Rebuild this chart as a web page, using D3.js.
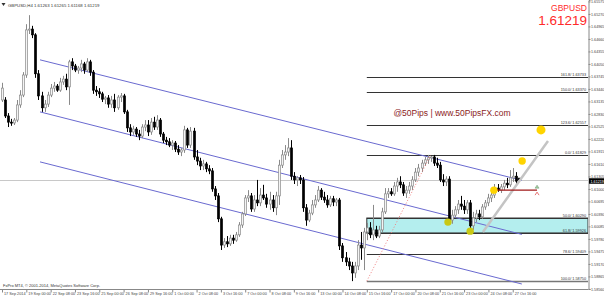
<!DOCTYPE html>
<html>
<head>
<meta charset="utf-8">
<script src="https://cdn.jsdelivr.net/npm/d3@7"></script>
<style>
  body { margin: 0; background: #fff; }
  text { font-family: "Liberation Sans", Arial, sans-serif; }
</style>
</head>
<body>
<div id="chart"></div>
<script>
var svgWidth = 604;
var svgHeight = 297;
var plotRight = 588;
var plotBottom = 289;

// chart data
var header = "GBPUSD,H4 1.61263 1.61265 1.61168 1.61219";
var symbol = "GBPUSD";
var lastPrice = 1.61219;
var credit = "FxPro MT4, \u00a9 2001-2014, MetaQuotes Software Corp.";
var watermark = "@50Pips | www.50PipsFX.com";

var timeLabels = ["17 Sep 2014", "19 Sep 00:00", "22 Sep 08:00", "23 Sep 16:00", "25 Sep 00:00",
  "26 Sep 08:00", "29 Sep 16:00", "1 Oct 00:00", "2 Oct 08:00", "3 Oct 16:00", "7 Oct 00:00",
  "8 Oct 08:00", "9 Oct 16:00", "13 Oct 00:00", "14 Oct 08:00", "15 Oct 16:00", "17 Oct 00:00",
  "20 Oct 08:00", "21 Oct 16:00", "23 Oct 00:00", "24 Oct 08:00", "27 Oct 16:00"];
var timeLabelBars = [0, 8, 16, 24, 32, 40, 48, 56, 64, 72, 80, 88, 96, 104, 112, 120, 128, 136, 144, 152, 160, 168];

var priceTicks = [1.58560, 1.58865, 1.59170, 1.59475, 1.59780, 1.60085, 1.60390, 1.60695,
  1.61000, 1.61305, 1.61610, 1.61915, 1.62220, 1.62525, 1.62830, 1.63135, 1.63440, 1.63745,
  1.64050, 1.64355, 1.64660, 1.64965, 1.65270, 1.65575];

// H4 bars: open, high, low, close
var candles = [
  [1.6317,1.6359,1.6312,1.6346],[1.6317,1.6324,1.6273,1.6278],[1.6278,1.6285,1.6251,1.6263],
  [1.6263,1.6271,1.6254,1.6261],[1.6261,1.6273,1.6256,1.6268],[1.6268,1.6317,1.6263,1.6305],
  [1.6305,1.6341,1.6298,1.6329],[1.6329,1.6385,1.6324,1.6378],[1.6378,1.6502,1.6371,1.6488],
  [1.6488,1.6524,1.6478,1.6490],[1.6490,1.6498,1.6468,1.6476],[1.6476,1.6480,1.6371,1.6381],
  [1.6381,1.6390,1.6317,1.6327],[1.6327,1.6337,1.6288,1.6298],[1.6298,1.6317,1.6288,1.6307],
  [1.6307,1.6337,1.6300,1.6329],[1.6329,1.6356,1.6324,1.6346],[1.6346,1.6361,1.6337,1.6351],
  [1.6351,1.6356,1.6337,1.6341],[1.6341,1.6371,1.6337,1.6361],[1.6361,1.6376,1.6354,1.6368],
  [1.6368,1.6381,1.6341,1.6349],[1.6349,1.6415,1.6305,1.6410],[1.6410,1.6419,1.6390,1.6400],
  [1.6400,1.6405,1.6385,1.6390],[1.6390,1.6400,1.6381,1.6395],[1.6395,1.6415,1.6385,1.6405],
  [1.6405,1.6410,1.6381,1.6390],[1.6390,1.6419,1.6385,1.6410],[1.6410,1.6415,1.6376,1.6385],
  [1.6385,1.6390,1.6332,1.6341],[1.6341,1.6351,1.6327,1.6337],[1.6337,1.6346,1.6322,1.6332],
  [1.6332,1.6337,1.6312,1.6319],[1.6319,1.6327,1.6307,1.6322],[1.6322,1.6329,1.6298,1.6307],
  [1.6307,1.6327,1.6298,1.6317],[1.6317,1.6332,1.6288,1.6298],[1.6298,1.6329,1.6293,1.6324],
  [1.6324,1.6334,1.6312,1.6327],[1.6327,1.6332,1.6283,1.6288],[1.6288,1.6293,1.6239,1.6249],
  [1.6249,1.6258,1.6229,1.6239],[1.6239,1.6254,1.6232,1.6246],[1.6246,1.6251,1.6227,1.6234],
  [1.6234,1.6244,1.6219,1.6229],[1.6229,1.6258,1.6224,1.6251],[1.6251,1.6268,1.6241,1.6256],
  [1.6256,1.6268,1.6229,1.6239],[1.6239,1.6273,1.6232,1.6263],[1.6263,1.6276,1.6244,1.6251],
  [1.6251,1.6280,1.6244,1.6268],[1.6268,1.6273,1.6227,1.6234],[1.6234,1.6239,1.6212,1.6219],
  [1.6219,1.6227,1.6207,1.6215],[1.6215,1.6224,1.6202,1.6207],[1.6207,1.6219,1.6195,1.6212],
  [1.6212,1.6217,1.6190,1.6197],[1.6197,1.6207,1.6183,1.6190],[1.6190,1.6200,1.6180,1.6195],
  [1.6195,1.6254,1.6188,1.6244],[1.6244,1.6249,1.6200,1.6207],[1.6207,1.6251,1.6200,1.6241],
  [1.6241,1.6249,1.6171,1.6178],[1.6178,1.6195,1.6158,1.6168],[1.6168,1.6176,1.6146,1.6156],
  [1.6156,1.6171,1.6146,1.6161],[1.6161,1.6166,1.6141,1.6149],[1.6149,1.6158,1.6136,1.6144],
  [1.6144,1.6151,1.6093,1.6100],[1.6100,1.6107,1.6073,1.6083],[1.6083,1.6090,1.6019,1.6027],
  [1.6027,1.6032,1.5951,1.5963],[1.5963,1.5980,1.5956,1.5971],[1.5971,1.5985,1.5958,1.5966],
  [1.5966,1.5988,1.5961,1.5980],[1.5980,1.5988,1.5966,1.5975],[1.5975,1.5995,1.5971,1.5988],
  [1.5988,1.6019,1.5983,1.6012],[1.6012,1.6044,1.6005,1.6039],[1.6039,1.6085,1.6034,1.6078],
  [1.6078,1.6097,1.6068,1.6083],[1.6083,1.6090,1.6044,1.6051],[1.6051,1.6085,1.6044,1.6073],
  [1.6073,1.6122,1.6058,1.6066],[1.6066,1.6102,1.6058,1.6085],[1.6085,1.6110,1.6073,1.6078],
  [1.6078,1.6088,1.6054,1.6063],[1.6063,1.6093,1.6049,1.6073],[1.6073,1.6085,1.6044,1.6054],
  [1.6054,1.6093,1.6036,1.6083],[1.6083,1.6171,1.6061,1.6158],[1.6158,1.6195,1.6151,1.6183],
  [1.6183,1.6207,1.6171,1.6190],[1.6190,1.6224,1.6180,1.6200],[1.6200,1.6219,1.6122,1.6131],
  [1.6131,1.6141,1.6112,1.6122],[1.6122,1.6131,1.6107,1.6127],[1.6127,1.6134,1.6112,1.6122],
  [1.6122,1.6129,1.6044,1.6054],[1.6054,1.6063,1.6010,1.6024],[1.6024,1.6049,1.6019,1.6041],
  [1.6041,1.6073,1.6036,1.6061],[1.6061,1.6085,1.6054,1.6073],[1.6073,1.6107,1.6068,1.6097],
  [1.6097,1.6102,1.6073,1.6080],[1.6080,1.6093,1.6066,1.6073],[1.6073,1.6085,1.6054,1.6061],
  [1.6061,1.6083,1.6056,1.6076],[1.6076,1.6083,1.6058,1.6068],[1.6068,1.6078,1.6058,1.6073],
  [1.6073,1.6078,1.5951,1.5961],[1.5961,1.5968,1.5922,1.5932],[1.5932,1.5946,1.5912,1.5922],
  [1.5922,1.5932,1.5902,1.5912],[1.5912,1.5922,1.5875,1.5895],[1.5895,1.5922,1.5883,1.5912],
  [1.5912,1.5975,1.5902,1.5963],[1.5963,1.5995,1.5927,1.5956],[1.5956,1.6005,1.5902,1.5995],
  [1.5995,1.6017,1.5975,1.6005],[1.6005,1.6019,1.5980,1.5988],[1.5988,1.6061,1.5975,1.6000],
  [1.6000,1.6010,1.5980,1.5985],[1.5985,1.6010,1.5980,1.6000],[1.6000,1.6054,1.5995,1.6044],
  [1.6044,1.6102,1.6039,1.6088],[1.6088,1.6102,1.6078,1.6093],[1.6093,1.6102,1.6083,1.6088],
  [1.6088,1.6117,1.6083,1.6107],[1.6107,1.6127,1.6093,1.6117],[1.6117,1.6131,1.6102,1.6110],
  [1.6110,1.6117,1.6083,1.6090],[1.6090,1.6107,1.6078,1.6097],[1.6097,1.6117,1.6088,1.6107],
  [1.6107,1.6131,1.6097,1.6122],[1.6122,1.6151,1.6117,1.6141],[1.6141,1.6161,1.6131,1.6151],
  [1.6151,1.6171,1.6141,1.6163],[1.6163,1.6178,1.6156,1.6171],[1.6171,1.6183,1.6161,1.6176],
  [1.6176,1.6180,1.6166,1.6178],[1.6178,1.6183,1.6156,1.6163],[1.6163,1.6176,1.6151,1.6158],
  [1.6158,1.6166,1.6117,1.6122],[1.6122,1.6136,1.6107,1.6117],[1.6117,1.6131,1.6107,1.6124],
  [1.6124,1.6131,1.6015,1.6024],[1.6024,1.6049,1.6015,1.6036],[1.6036,1.6058,1.6029,1.6049],
  [1.6049,1.6073,1.6039,1.6063],[1.6063,1.6083,1.6049,1.6058],[1.6058,1.6073,1.6039,1.6049],
  [1.6049,1.6073,1.6039,1.6066],[1.6066,1.6073,1.5995,1.6010],[1.6010,1.6044,1.6000,1.6029],
  [1.6029,1.6049,1.6019,1.6039],[1.6039,1.6049,1.6024,1.6032],[1.6032,1.6063,1.6027,1.6056],
  [1.6056,1.6073,1.6049,1.6066],[1.6066,1.6088,1.6058,1.6078],[1.6078,1.6093,1.6068,1.6085],
  [1.6085,1.6112,1.6078,1.6102],[1.6102,1.6112,1.6093,1.6097],[1.6097,1.6112,1.6090,1.6105],
  [1.6105,1.6122,1.6097,1.6114],[1.6114,1.6127,1.6102,1.6110],[1.6110,1.6146,1.6105,1.6127],
  [1.6127,1.6151,1.6117,1.6131],[1.6131,1.6141,1.6112,1.6119],[1.61263,1.61265,1.61168,1.61219]
];

// fibonacci retracement, anchored on the 15 Oct low and 21 Oct high
var fibAnchors = [[120, 1.58750], [141, 1.61829]];
var fibRatios = ["0.0", "50.0", "61.8", "78.6", "100.0", "123.6", "150.0", "161.8"];
var fibPrices = [1.61829, 1.60290, 1.59926, 1.59409, 1.58750, 1.62557, 1.63370, 1.63733];

// drawn objects (bar index, price)
var channelLines = [
  [[12.5, 1.6415], [171, 1.6121]],
  [[12.5, 1.6288], [171, 1.5989]],
  [[12.5, 1.6166], [171, 1.5868]]
];
var trendLine = [[158.2, 1.5995], [179.6, 1.6217]];
var supportLine = [[161.2, 1.6097], [176, 1.6097]];
var yellowDots = [[177.3, 1.6244], [171.1, 1.6168], [161.8, 1.6097]];
var oliveDots = [[146.7, 1.6019], [154, 1.5997]];

var svg = d3.select("#chart")
  .append("svg")
  .attr("width", svgWidth)
  .attr("height", svgHeight);

var xScale = d3.scaleLinear().domain([0, 192.76]).range([2, plotRight]);
var yScale = d3.scaleLinear().domain([1.58558, 1.6561]).range([plotBottom, 0]);

svg.append("clipPath").attr("id", "plotClip")
  .append("rect").attr("x", 0).attr("y", 0).attr("width", plotRight).attr("height", plotBottom);

var plot = svg.append("g").attr("clip-path", "url(#plotClip)");

var fibLeft = xScale(fibAnchors[0][0]);

// cyan zone between 50.0 and 61.8
plot.append("rect")
  .attr("x", fibLeft)
  .attr("y", yScale(fibPrices[1]))
  .attr("width", plotRight - fibLeft)
  .attr("height", yScale(fibPrices[2]) - yScale(fibPrices[1]))
  .attr("fill", "#b4eeee")
  .attr("stroke", "#333")
  .attr("stroke-width", 1);

// fib levels
plot.selectAll(".fib")
  .data(fibPrices)
  .enter()
  .append("line")
  .attr("x1", fibLeft)
  .attr("x2", plotRight)
  .attr("y1", d => Math.round(yScale(d)) + 0.5)
  .attr("y2", d => Math.round(yScale(d)) + 0.5)
  .attr("stroke", (d, i) => i == 4 ? "#777" : "#333")
  .attr("stroke-width", (d, i) => i == 4 ? 1.6 : 1);

plot.selectAll(".fibText")
  .data(fibPrices)
  .enter()
  .append("text")
  .attr("x", plotRight - 2)
  .attr("y", d => yScale(d) - 1)
  .attr("text-anchor", "end")
  .attr("font-size", "3.8px")
  .attr("fill", "#333")
  .text((d, i) => fibRatios[i] + "/ " + d.toFixed(5));

// current price line
plot.append("line")
  .attr("x1", 0).attr("x2", plotRight)
  .attr("y1", Math.round(yScale(lastPrice)) + 0.5)
  .attr("y2", Math.round(yScale(lastPrice)) + 0.5)
  .attr("stroke", "#c8c8c8");

// channel
var lineGen = d3.line().x(d => xScale(d[0])).y(d => yScale(d[1]));
plot.selectAll(".channel")
  .data(channelLines)
  .enter()
  .append("path")
  .attr("d", lineGen)
  .attr("fill", "none")
  .attr("stroke", "#6a6ad0")
  .attr("stroke-width", 1);

// candles
var bars = plot.selectAll(".bar")
  .data(candles)
  .enter()
  .append("g");

bars.append("line")
  .attr("x1", (d, i) => Math.round(xScale(i)) + 0.5)
  .attr("x2", (d, i) => Math.round(xScale(i)) + 0.5)
  .attr("y1", d => yScale(d[1]))
  .attr("y2", d => yScale(d[2]))
  .attr("stroke", d => d[3] >= d[0] ? "#8a8a8a" : "#000")
  .attr("stroke-width", 1);

bars.append("rect")
  .attr("x", (d, i) => Math.round(xScale(i)) - 0.5)
  .attr("y", d => yScale(Math.max(d[0], d[3])))
  .attr("width", 2)
  .attr("height", d => Math.max(1, Math.abs(yScale(d[0]) - yScale(d[3]))))
  .attr("fill", d => d[3] >= d[0] ? "#f4f4f4" : "#000")
  .attr("stroke", d => d[3] >= d[0] ? "#8a8a8a" : "#000")
  .attr("stroke-width", 0.7);

// fib anchor line
plot.append("path")
  .attr("d", lineGen(fibAnchors))
  .attr("fill", "none")
  .attr("stroke", "#f08080")
  .attr("stroke-width", 1)
  .attr("stroke-dasharray", "1,2");

// trend line and support line
plot.append("path")
  .attr("d", lineGen(trendLine))
  .attr("fill", "none")
  .attr("stroke", "#c4c4c4")
  .attr("stroke-width", 2.5);

plot.append("path")
  .attr("d", lineGen(supportLine))
  .attr("fill", "none")
  .attr("stroke", "#a01818")
  .attr("stroke-width", 1.2);

// arrow marker at the end of the support line
var arrowX = xScale(supportLine[1][0]);
var arrowY = yScale(supportLine[1][1]);
plot.append("path")
  .attr("d", `M${arrowX - 2},${arrowY - 2} L${arrowX},${arrowY - 5} L${arrowX + 2},${arrowY - 2} Z`)
  .attr("fill", "#a0d0a0").attr("stroke", "#709070").attr("stroke-width", 0.5);
plot.append("path")
  .attr("d", `M${arrowX - 2},${arrowY + 5} L${arrowX},${arrowY + 2} L${arrowX + 2},${arrowY + 5}`)
  .attr("fill", "none").attr("stroke", "#e05050").attr("stroke-width", 0.8);

// dots
plot.selectAll(".ydot")
  .data(yellowDots)
  .enter()
  .append("circle")
  .attr("cx", d => xScale(d[0]))
  .attr("cy", d => yScale(d[1]))
  .attr("r", (d, i) => i == 0 ? 4.5 : 3.7)
  .attr("fill", "#ffd400");

plot.selectAll(".odot")
  .data(oliveDots)
  .enter()
  .append("circle")
  .attr("cx", d => xScale(d[0]))
  .attr("cy", d => yScale(d[1]))
  .attr("r", 3.7)
  .attr("fill", "#c8c814");

// watermark
plot.append("text")
  .attr("x", 452)
  .attr("y", 116)
  .attr("text-anchor", "middle")
  .attr("font-size", "8.5px")
  .attr("fill", "#8b1c1c")
  .text(watermark);

// axes
var rightAxis = d3.axisRight(yScale)
  .tickValues(priceTicks)
  .tickFormat(d3.format(".5f"))
  .tickSize(2);

var priceAxis = svg.append("g")
  .attr("transform", `translate(${plotRight + 0.5}, 0)`)
  .call(rightAxis);
priceAxis.select(".domain").attr("stroke", "#888");
priceAxis.selectAll(".tick line").attr("stroke", "#888");
priceAxis.selectAll("text")
  .attr("font-size", "3.7px")
  .attr("font-family", "Liberation Sans, Arial, sans-serif")
  .attr("fill", "#444")
  .attr("x", 2.5);

var bottomAxis = d3.axisBottom(xScale)
  .tickValues(timeLabelBars)
  .tickFormat((d, i) => timeLabels[i])
  .tickSize(3);

var timeAxis = svg.append("g")
  .attr("transform", `translate(0, ${plotBottom + 0.5})`)
  .call(bottomAxis);
timeAxis.select(".domain").remove();
timeAxis.selectAll(".tick line").attr("stroke", "#888");
timeAxis.selectAll("text")
  .attr("font-size", "3.8px")
  .attr("font-family", "Liberation Sans, Arial, sans-serif")
  .attr("fill", "#444")
  .attr("text-anchor", "start")
  .attr("x", 1.5)
  .attr("y", 2)
  .attr("dy", "0.9em");

svg.append("line")
  .attr("x1", 0).attr("x2", plotRight + 0.5)
  .attr("y1", plotBottom + 0.5).attr("y2", plotBottom + 0.5)
  .attr("stroke", "#888");

// last price tag
var tagY = yScale(lastPrice);
svg.append("rect")
  .attr("x", plotRight + 1).attr("y", tagY - 1.7)
  .attr("width", svgWidth - plotRight - 1).attr("height", 5.5)
  .attr("fill", "#000");
svg.append("text")
  .attr("x", plotRight + 2.5).attr("y", tagY + 2.6)
  .attr("font-size", "3.7px")
  .attr("fill", "#fff")
  .text(lastPrice.toFixed(5));

// titles
svg.append("path")
  .attr("d", "M1.5,3 L5.5,3 L3.5,6 Z")
  .attr("fill", "#333");
svg.append("text")
  .attr("x", 8).attr("y", 6.5)
  .attr("font-size", "4.3px")
  .attr("fill", "#333")
  .text(header);

svg.append("text")
  .attr("x", 587).attr("y", 11)
  .attr("text-anchor", "end")
  .attr("font-size", "8.5px")
  .attr("fill", "#ff2a2a")
  .text(symbol);

svg.append("text")
  .attr("x", 587).attr("y", 25)
  .attr("text-anchor", "end")
  .attr("font-size", "13.5px")
  .attr("fill", "#ff2a2a")
  .text(lastPrice.toFixed(5));

svg.append("text")
  .attr("x", 3).attr("y", 287)
  .attr("font-size", "4px")
  .attr("fill", "#333")
  .text(credit);
</script>
</body>
</html>
